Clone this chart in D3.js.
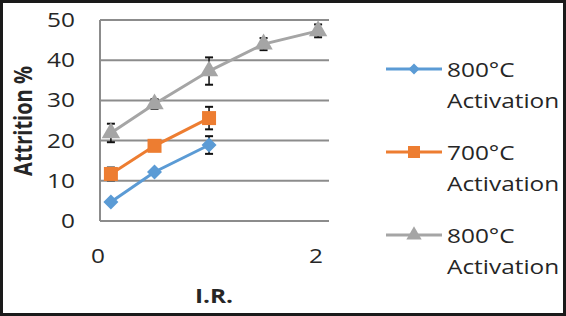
<!DOCTYPE html>
<html>
<head>
<meta charset="utf-8">
<script src="https://cdn.jsdelivr.net/npm/d3@7"></script>
<style>
  body { margin: 0; background: #fff; }
  text { font-family: "Open Sans", sans-serif; fill: #262626; }
</style>
</head>
<body>
<div id="chart"></div>
<script>
// data
var irGray = [0.1, 0.5, 1, 1.5, 2],
    irShort = [0.1, 0.5, 1];
var gray800 = [21.9, 29.1, 37.3, 44.0, 47.3],
    orange700 = [11.7, 18.7, 25.6],
    blue800 = [4.7, 12.2, 18.9];
var errGray = [2.3, 1.2, 3.4, 1.5, 1.6],
    errOrange = [1.6, 0.5, 2.8],
    errBlue = [0.4, 0.5, 2.2];
var yTicks = [0, 10, 20, 30, 40, 50],
    xTicks = [0, 2];
var legendNames = ["800\u00B0C", "700\u00B0C", "800\u00B0C"];

var width = 566, height = 316;
var sx = 1.22; // source picture is stretched sideways

var x = d3.scaleLinear().domain([0, 2.1]).range([100, 329]);
var y = d3.scaleLinear().domain([0, 50]).range([221, 20]);

var svg = d3.select("#chart").append("svg")
    .attr("width", width)
    .attr("height", height);

svg.append("rect")
    .attr("x", 1.5).attr("y", 1.5)
    .attr("width", width - 3).attr("height", height - 3)
    .attr("fill", "#fff")
    .attr("stroke", "#1a1a1a")
    .attr("stroke-width", 3);

// grid
svg.selectAll(".grid").data(yTicks).enter().append("line")
    .attr("x1", x(0)).attr("x2", x(2.1))
    .attr("y1", function(d) { return y(d); })
    .attr("y2", function(d) { return y(d); })
    .attr("stroke", "#8c8c8c")
    .attr("stroke-width", 2);

svg.append("line")
    .attr("x1", x(0)).attr("x2", x(0))
    .attr("y1", y(0)).attr("y2", y(50))
    .attr("stroke", "#8c8c8c")
    .attr("stroke-width", 2);

function label(px, py, str, anchor, size, bold) {
  return svg.append("text")
    .attr("transform", "translate(" + px + "," + py + ") scale(" + sx + ",1)")
    .attr("text-anchor", anchor)
    .style("font-size", size + "px")
    .style("font-weight", bold ? "bold" : "normal")
    .text(str);
}

yTicks.forEach(function(t) { label(75, y(t) + 7, t, "end", 20, false); });
xTicks.forEach(function(t) { label(x(t) - 2, 263, t, "middle", 20, false); });

label(214, 303, "I.R.", "middle", 20, true);
svg.append("text")
    .attr("transform", "translate(32,121) rotate(-90) scale(1," + sx + ")")
    .attr("text-anchor", "middle")
    .style("font-size", "20px")
    .style("font-weight", "bold")
    .text("Attrition %");

var series = [
  { xs: irShort, ys: blue800, err: errBlue, color: "#5b9bd5", sym: "diamond" },
  { xs: irShort, ys: orange700, err: errOrange, color: "#ed7d31", sym: "square" },
  { xs: irGray, ys: gray800, err: errGray, color: "#a5a5a5", sym: "triangle" }
];

// size = approx. marker width in px
function marker(g, kind, size, color) {
  var s;
  if (kind === "diamond") s = g.append("path").attr("d", d3.symbol(d3.symbolSquare, size * size / 2)());
  else if (kind === "square") s = g.append("path").attr("d", d3.symbol(d3.symbolSquare, size * size)());
  else s = g.append("path").attr("d", d3.symbol(d3.symbolTriangle, size * size * 0.45)());
  return s.attr("fill", color);
}

var line = d3.line().x(function(d) { return x(d[0]); }).y(function(d) { return y(d[1]); });

series.slice().reverse().forEach(function(s) {
  var pts = s.xs.map(function(v, i) { return [v, s.ys[i], s.err[i]]; });
  svg.append("path")
    .attr("d", line(pts))
    .attr("fill", "none")
    .attr("stroke", s.color)
    .attr("stroke-width", 3);

  // error bars sit under the markers
  pts.forEach(function(p) {
    var cx = x(p[0]), top = y(p[1] + p[2]), bot = y(p[1] - p[2]);
    svg.append("line").attr("x1", cx).attr("x2", cx).attr("y1", top).attr("y2", bot)
      .attr("stroke", "#111").attr("stroke-width", 1.5);
    [top, bot].forEach(function(cy) {
      svg.append("line").attr("x1", cx - 4).attr("x2", cx + 4).attr("y1", cy).attr("y2", cy)
        .attr("stroke", "#111").attr("stroke-width", 2);
    });
  });

  pts.forEach(function(p) {
    var g = svg.append("g").attr("transform", "translate(" + x(p[0]) + "," + y(p[1]) + ")" + (s.sym === "diamond" ? " rotate(45)" : ""));
    marker(g, s.sym, s.sym === "diamond" ? 15 : (s.sym === "square" ? 14 : 18), s.color);
  });
});

// legend
var legY = [69, 152, 235];
series.forEach(function(s, i) {
  var ly = legY[i];
  svg.append("line").attr("x1", 386).attr("x2", 442).attr("y1", ly).attr("y2", ly)
    .attr("stroke", s.color).attr("stroke-width", 3);
  var g = svg.append("g").attr("transform", "translate(414," + ly + ")" + (s.sym === "diamond" ? " rotate(45)" : ""));
  marker(g, s.sym, s.sym === "diamond" ? 11 : (s.sym === "square" ? 12 : 15), s.color);
  label(447, ly + 8, legendNames[i], "start", 20, false);
  label(447, ly + 39, "Activation", "start", 20, false);
});
</script>
</body>
</html>
